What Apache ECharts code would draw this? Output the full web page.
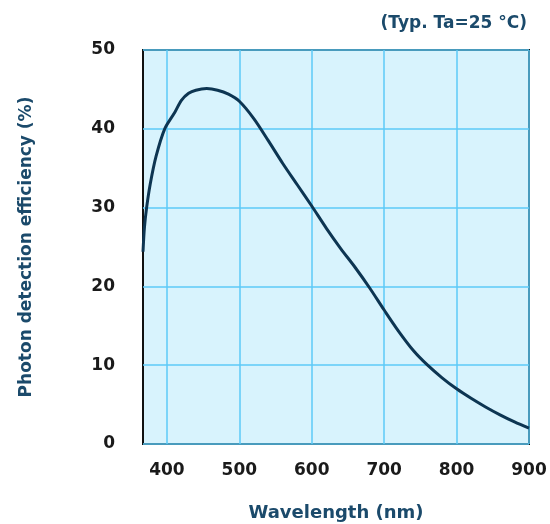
<!DOCTYPE html>
<html>
<head>
<meta charset="utf-8">
<script src="https://cdn.jsdelivr.net/npm/echarts@6/dist/echarts.min.js"></script>
<style>html,body{margin:0;padding:0;background:#fff;}#c{width:550px;height:524px;}</style>
</head>
<body>
<div id="c"></div>
<script>
const wavelengths = [367, 369, 372, 377, 385, 397, 411, 420, 430, 440, 455, 470, 485, 500, 520, 540, 560, 580, 600, 620, 640, 660, 680, 700, 720, 740, 760, 780, 800, 820, 840, 860, 880, 900];
const efficiency  = [24.4, 27.5, 30.0, 33.0, 36.5, 40.0, 42.1, 43.6, 44.5, 44.9, 45.1, 44.9, 44.4, 43.5, 41.3, 38.5, 35.6, 32.9, 30.2, 27.4, 24.8, 22.4, 19.8, 17.0, 14.3, 11.9, 10.0, 8.4, 7.0, 5.8, 4.7, 3.7, 2.8, 2.0];
const xTicks = [400, 500, 600, 700, 800, 900];
const yTicks = [0, 10, 20, 30, 40, 50];

const chart = echarts.init(document.getElementById('c'), null, {renderer: 'canvas'});
const font = '"DejaVu Sans", sans-serif';
chart.setOption({
  animation: false,
  title: {
    text: '(Typ. Ta=25 °C)',
    right: 18, top: 10,
    textStyle: {fontFamily: font, fontWeight: 'bold', fontSize: 17, color: '#1b4a6b'}
  },
  grid: {
    left: 143, right: 21, top: 50, bottom: 80,
    outerBoundsMode: 'none', containLabel: false,
    show: true, backgroundColor: '#d8f3fd', borderColor: '#111', borderWidth: 2
  },
  xAxis: {
    type: 'value', min: 367, max: 900,
    name: 'Wavelength (nm)', nameLocation: 'middle', nameGap: 60,
    nameTextStyle: {fontFamily: font, fontWeight: 'bold', fontSize: 18, color: '#1b4a6b'},
    axisLine: {show: false},
    axisTick: {show: false, customValues: xTicks},
    axisLabel: {customValues: xTicks, margin: 18, fontFamily: font, fontWeight: 'bold', fontSize: 17, color: '#1a1a1a'},
    splitLine: {show: true, lineStyle: {color: '#5ccaf7', width: 1.5}}
  },
  yAxis: {
    type: 'value', min: 0, max: 50, interval: 10,
    name: 'Photon detection efficiency (%)', nameLocation: 'middle', nameGap: 108,
    nameTextStyle: {fontFamily: font, fontWeight: 'bold', fontSize: 17, color: '#1b4a6b'},
    axisLine: {show: false},
    axisTick: {show: false},
    axisLabel: {customValues: yTicks, margin: 28, fontFamily: font, fontWeight: 'bold', fontSize: 17, color: '#1a1a1a'},
    splitLine: {show: true, lineStyle: {color: '#5ccaf7', width: 1.5}}
  },
  series: [{
    type: 'line',
    data: wavelengths.map((w, i) => [w, efficiency[i]]),
    smooth: 0.3,
    showSymbol: false,
    lineStyle: {color: '#0d3552', width: 3}
  }]
});
</script>
</body>
</html>
